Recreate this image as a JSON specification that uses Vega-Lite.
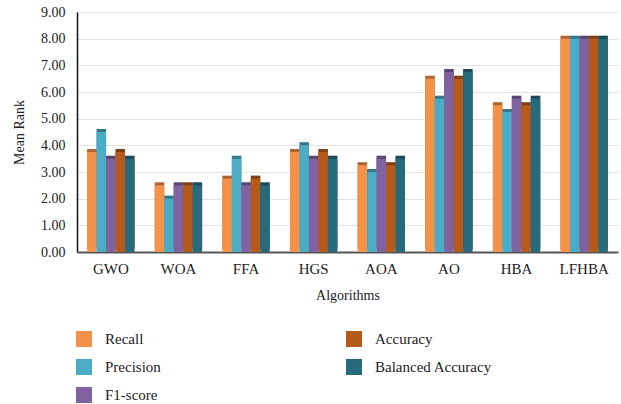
{
  "$schema": "https://vega.github.io/schema/vega-lite/v6.json",
  "width": 541,
  "height": 240,
  "autosize": {"type": "none"},
  "padding": {"left": 77, "top": 12, "right": 3, "bottom": 152},
  "background": "white",
  "config": {
    "view": {"stroke": null},
    "font": "Liberation Serif",
    "axis": {"labelFont": "Liberation Serif", "titleFont": "Liberation Serif", "labelColor": "#222", "titleColor": "#222", "titleFontWeight": "normal"},
    "legend": {"labelFont": "Liberation Serif"}
  },
  "data": {
    "values": [
      {"alg": "GWO", "metric": "Recall", "v": 3.75},
      {"alg": "GWO", "metric": "Precision", "v": 4.5},
      {"alg": "GWO", "metric": "F1-score", "v": 3.5},
      {"alg": "GWO", "metric": "Accuracy", "v": 3.75},
      {"alg": "GWO", "metric": "Balanced Accuracy", "v": 3.5},
      {"alg": "WOA", "metric": "Recall", "v": 2.5},
      {"alg": "WOA", "metric": "Precision", "v": 2.0},
      {"alg": "WOA", "metric": "F1-score", "v": 2.5},
      {"alg": "WOA", "metric": "Accuracy", "v": 2.5},
      {"alg": "WOA", "metric": "Balanced Accuracy", "v": 2.5},
      {"alg": "FFA", "metric": "Recall", "v": 2.75},
      {"alg": "FFA", "metric": "Precision", "v": 3.5},
      {"alg": "FFA", "metric": "F1-score", "v": 2.5},
      {"alg": "FFA", "metric": "Accuracy", "v": 2.75},
      {"alg": "FFA", "metric": "Balanced Accuracy", "v": 2.5},
      {"alg": "HGS", "metric": "Recall", "v": 3.75},
      {"alg": "HGS", "metric": "Precision", "v": 4.0},
      {"alg": "HGS", "metric": "F1-score", "v": 3.5},
      {"alg": "HGS", "metric": "Accuracy", "v": 3.75},
      {"alg": "HGS", "metric": "Balanced Accuracy", "v": 3.5},
      {"alg": "AOA", "metric": "Recall", "v": 3.25},
      {"alg": "AOA", "metric": "Precision", "v": 3.0},
      {"alg": "AOA", "metric": "F1-score", "v": 3.5},
      {"alg": "AOA", "metric": "Accuracy", "v": 3.25},
      {"alg": "AOA", "metric": "Balanced Accuracy", "v": 3.5},
      {"alg": "AO", "metric": "Recall", "v": 6.5},
      {"alg": "AO", "metric": "Precision", "v": 5.75},
      {"alg": "AO", "metric": "F1-score", "v": 6.75},
      {"alg": "AO", "metric": "Accuracy", "v": 6.5},
      {"alg": "AO", "metric": "Balanced Accuracy", "v": 6.75},
      {"alg": "HBA", "metric": "Recall", "v": 5.5},
      {"alg": "HBA", "metric": "Precision", "v": 5.25},
      {"alg": "HBA", "metric": "F1-score", "v": 5.75},
      {"alg": "HBA", "metric": "Accuracy", "v": 5.5},
      {"alg": "HBA", "metric": "Balanced Accuracy", "v": 5.75},
      {"alg": "LFHBA", "metric": "Recall", "v": 8.0},
      {"alg": "LFHBA", "metric": "Precision", "v": 8.0},
      {"alg": "LFHBA", "metric": "F1-score", "v": 8.0},
      {"alg": "LFHBA", "metric": "Accuracy", "v": 8.0},
      {"alg": "LFHBA", "metric": "Balanced Accuracy", "v": 8.0}
    ]
  },
  "encoding": {
    "x": {
      "field": "alg", "type": "nominal", "sort": null,
      "scale": {"paddingInner": 0.3, "paddingOuter": 0.15},
      "axis": {"title": "Algorithms", "labelAngle": 0, "labelFontSize": 15, "titleFontSize": 14, "labelPadding": 9, "titlePadding": 12, "ticks": false, "domain": true, "domainColor": "#555", "domainWidth": 2}
    },
    "xOffset": {
      "field": "metric", "type": "nominal",
      "scale": {"domain": ["Recall", "Precision", "F1-score", "Accuracy", "Balanced Accuracy"]}
    },
    "y": {
      "field": "v", "type": "quantitative",
      "scale": {"domain": [0, 9]},
      "axis": {"title": "Mean Rank", "format": ".2f", "values": [0,1,2,3,4,5,6,7,8,9], "labelOverlap": false, "labelFontSize": 14, "titleFontSize": 14, "ticks": false, "labelPadding": 12, "titlePadding": 14, "domain": true, "domainColor": "#111", "domainWidth": 1.5, "gridColor": "#e3e3e3", "gridWidth": 1.2}
    },
    "color": {
      "field": "metric", "type": "nominal",
      "scale": {
        "domain": ["Recall", "Accuracy", "Precision", "Balanced Accuracy", "F1-score"],
        "range": ["#F5924A", "#B65A1C", "#4BACC6", "#276A7B", "#7F63A1"]
      },
      "legend": {
        "title": null, "orient": "none", "legendX": -1, "legendY": 319,
        "columns": 2, "direction": "horizontal", "symbolType": "square", "symbolSize": 256,
        "symbolStrokeWidth": 0, "labelFontSize": 15, "labelOffset": 13, "rowPadding": 12,
        "columnPadding": 185, "padding": 0, "labelColor": "#222"
      }
    }
  },
  "layer": [
    {"mark": {"type": "bar", "xOffset": 3, "x2Offset": 3, "yOffset": -3, "y2Offset": -3}},
    {"mark": {"type": "bar", "xOffset": 3, "x2Offset": 3, "yOffset": -3, "y2Offset": -3, "color": "black", "opacity": 0.3}, "encoding": {"color": {"value": "black"}}},
    {"mark": {"type": "bar"}}
  ]
}
